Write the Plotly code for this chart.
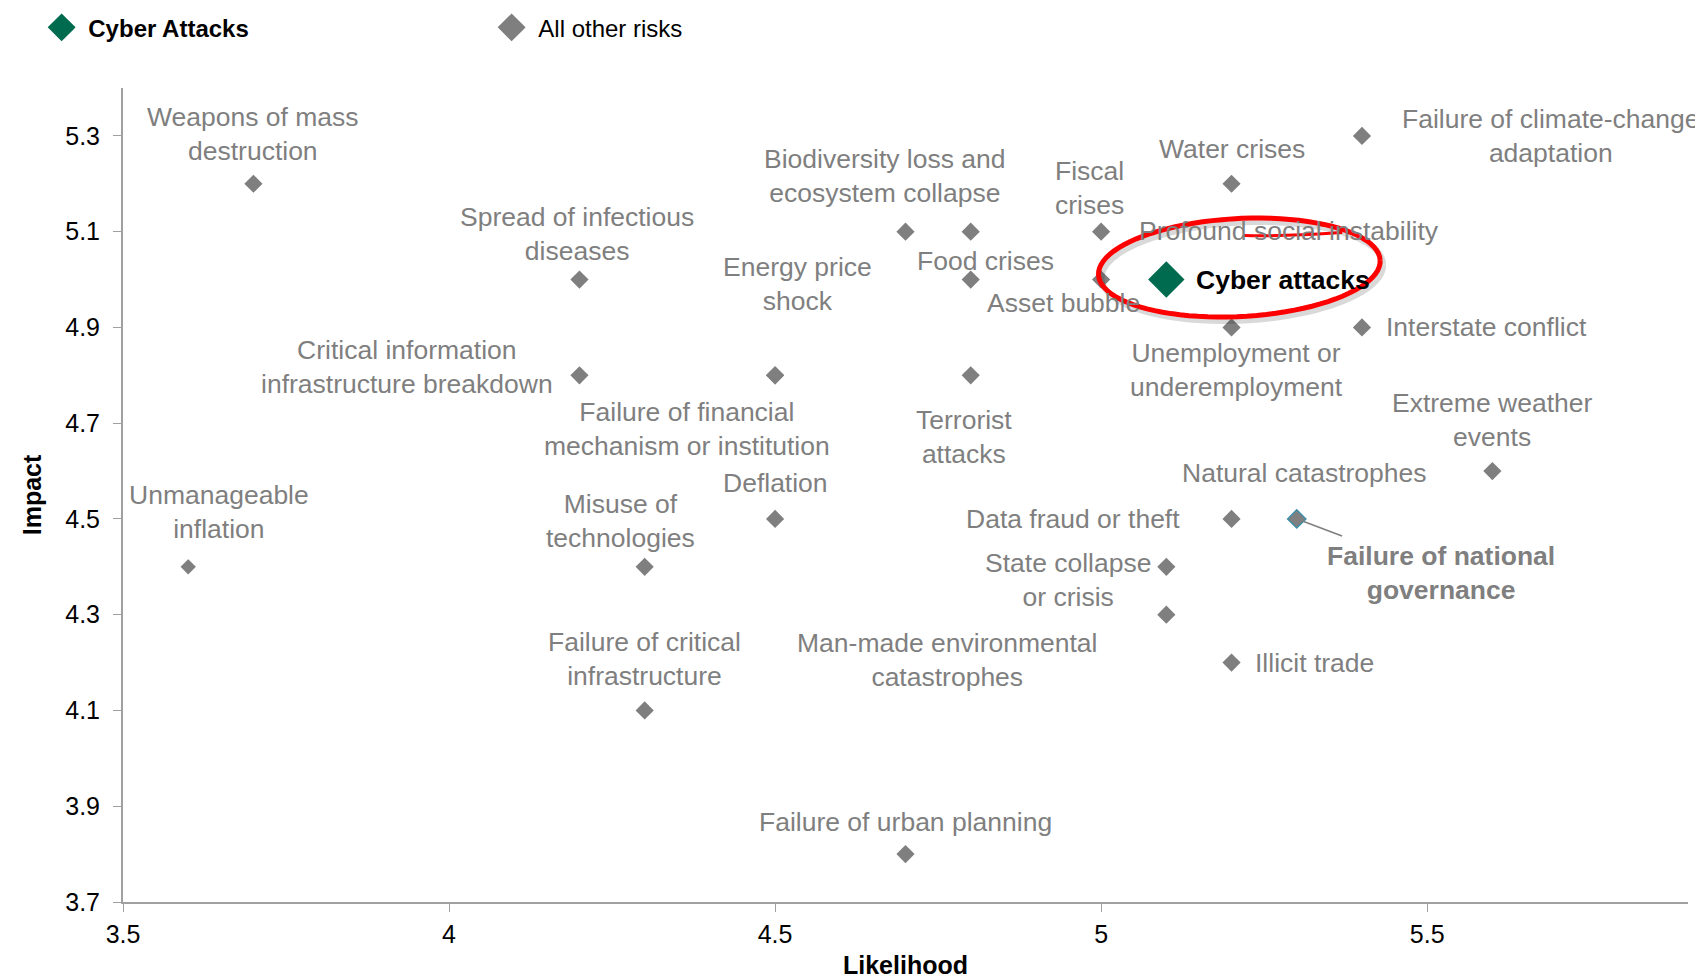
import math
import plotly.graph_objects as go

# ---------------- data ----------------
risk_names = [
    "Weapons of mass<br>destruction",
    "Unmanageable<br>inflation",
    "Spread of infectious<br>diseases",
    "Critical information<br>infrastructure breakdown",
    "Energy price<br>shock",
    "Failure of financial<br>mechanism or institution",
    "Misuse of<br>technologies",
    "Deflation",
    "Failure of critical<br>infrastructure",
    "Biodiversity loss and<br>ecosystem collapse",
    "Food crises",
    "Asset bubble",
    "Fiscal<br>crises",
    "Profound social instability",
    "Water crises",
    "Failure of climate-change<br>adaptation",
    "Interstate conflict",
    "Unemployment or<br>underemployment",
    "Terrorist<br>attacks",
    "Extreme weather<br>events",
    "Natural catastrophes",
    "Data fraud or theft",
    "Failure of national<br>governance",
    "State collapse<br>or crisis",
    "Man-made environmental<br>catastrophes",
    "Illicit trade",
    "Failure of urban planning",
]
likelihood = [3.7, 3.6, 4.2, 4.2, 4.5, 4.5, 4.3, 4.5, 4.3, 4.7, 4.8, 4.8, 5.0, 5.0,
              5.2, 5.4, 5.4, 5.2, 4.8, 5.6, 5.3, 5.2, 5.3, 5.1, 5.1, 5.2, 4.7]
impact = [5.2, 4.4, 5.0, 4.8, 4.8, 4.8, 4.4, 4.5, 4.1, 5.1, 5.1, 5.0, 5.1, 5.0,
          5.2, 5.3, 4.9, 4.9, 4.8, 4.6, 4.5, 4.5, 4.5, 4.4, 4.3, 4.2, 3.8]

cyber_name = "Cyber attacks"
cyber_likelihood = [5.1]
cyber_impact = [5.0]

legend_names = ["\u00a0<b>Cyber Attacks</b>", "\u00a0All other risks"]

x_tickvals = [3.5, 4, 4.5, 5, 5.5]
x_ticktext = ["3.5", "4", "4.5", "5", "5.5"]
y_tickvals = [3.7, 3.9, 4.1, 4.3, 4.5, 4.7, 4.9, 5.1, 5.3]
y_ticktext = ["3.7", "3.9", "4.1", "4.3", "4.5", "4.7", "4.9", "5.1", "5.3"]

# ---------------- layout / style ----------------
W, H = 1703, 977
M_L, M_R, M_T, M_B = 115, 23, 80, 83
X_RANGE = [3.5, 5.9]
Y_RANGE = [3.7, 5.4]
PX_PER_X = (W - M_L - M_R) / (X_RANGE[1] - X_RANGE[0])
PX_PER_Y = (H - M_T - M_B) / (Y_RANGE[1] - Y_RANGE[0])

FONT = "Arial, 'Liberation Sans', sans-serif"
GREY = "#7f7f7f"
GREEN = "#006b4f"
LABEL_SIZE = 26.5

# label offsets in pixels (dx, dy screen-down) and horizontal anchor
label_pos = {
    "Weapons of mass<br>destruction": (0, -50, "center"),
    "Unmanageable<br>inflation": (31, -55, "center"),
    "Spread of infectious<br>diseases": (-2, -46, "center"),
    "Critical information<br>infrastructure breakdown": (-24, -8, "right"),
    "Energy price<br>shock": (22, -91, "center"),
    "Failure of financial<br>mechanism or institution": (-88, 54, "center"),
    "Misuse of<br>technologies": (-24, -46, "center"),
    "Deflation": (0, -36, "center"),
    "Failure of critical<br>infrastructure": (0, -51, "center"),
    "Biodiversity loss and<br>ecosystem collapse": (-21, -56, "center"),
    "Food crises": (15, 29, "center"),
    "Asset bubble": (93, 23, "center"),
    "Fiscal<br>crises": (-12, -44, "center"),
    "Profound social instability": (36, -49, "left"),
    "Water crises": (0, -35, "center"),
    "Failure of climate-change<br>adaptation": (189, 0, "center"),
    "Interstate conflict": (22, 0, "left"),
    "Unemployment or<br>underemployment": (5, 43, "center"),
    "Terrorist<br>attacks": (-7, 62, "center"),
    "Extreme weather<br>events": (0, -51, "center"),
    "Natural catastrophes": (8, -46, "center"),
    "Data fraud or theft": (-50, 0, "right"),
    "State collapse<br>or crisis": (-98, 13, "center"),
    "Man-made environmental<br>catastrophes": (-219, 45, "center"),
    "Illicit trade": (21, 0, "left"),
    "Failure of urban planning": (0, -32, "center"),
}
arrow_labels = {"Failure of national<br>governance": (144, 54)}

marker_line_style = {
    "Unmanageable<br>inflation": ("#ffffff", 2),
    "Failure of national<br>governance": ("#3f8fa8", 1.5),
}

line_colors = [marker_line_style.get(n, (GREY, 0))[0] for n in risk_names]
line_widths = [marker_line_style.get(n, (GREY, 0))[1] for n in risk_names]

fig = go.Figure()

# data traces
fig.add_trace(go.Scatter(
    x=likelihood, y=impact, mode="markers", showlegend=False,
    marker=dict(symbol="diamond", size=14, color=GREY,
                line=dict(color=line_colors, width=line_widths)),
    hovertext=[n.replace("<br>", " ") for n in risk_names], hoverinfo="text",
))
fig.add_trace(go.Scatter(
    x=cyber_likelihood, y=cyber_impact, mode="markers", showlegend=False,
    marker=dict(symbol="diamond", size=28, color=GREEN),
    hovertext=[cyber_name], hoverinfo="text",
))

# legend entries
for name, col in zip(legend_names, [GREEN, GREY]):
    fig.add_trace(go.Scatter(
        x=[None], y=[None], mode="markers", name=name,
        marker=dict(symbol="diamond", size=16, color=col, line=dict(color=col, width=5)),
    ))

annotations = []
for n, xv, yv in zip(risk_names, likelihood, impact):
    if n in label_pos:
        dx, dy, anc = label_pos[n]
        annotations.append(dict(
            x=xv, y=yv, xref="x", yref="y", text=n, showarrow=False,
            xshift=dx, yshift=-dy, xanchor=anc, yanchor="middle", align="center",
            font=dict(family=FONT, size=LABEL_SIZE, color=GREY),
        ))
    elif n in arrow_labels:
        ax, ay = arrow_labels[n]
        annotations.append(dict(
            x=xv, y=yv, xref="x", yref="y", text="<b>" + n + "</b>", showarrow=True,
            ax=ax, ay=ay, arrowhead=0, arrowwidth=1.5, arrowcolor=GREY,
            standoff=6, startstandoff=10,
            align="center", font=dict(family=FONT, size=LABEL_SIZE, color=GREY),
        ))

annotations.append(dict(
    x=cyber_likelihood[0], y=cyber_impact[0], xref="x", yref="y",
    text="<b>" + cyber_name + "</b>", showarrow=False, xshift=28,
    xanchor="left", yanchor="middle",
    font=dict(family=FONT, size=LABEL_SIZE, color="#000000"),
))

# hand-drawn style red ellipse around the cyber point (pixel offsets -> data units)
cx_px, cy_px = 73, -12
a_px, b_px = 141, 49
rot = math.radians(-3)


def to_data(px, py):
    return (cyber_likelihood[0] + px / PX_PER_X, cyber_impact[0] - py / PX_PER_Y)


def ellipse_path(ox=0.0, oy=0.0):
    pts = []
    n = 90
    for i in range(n + 1):
        t = 2 * math.pi * i / n
        ex = a_px * math.cos(t)
        ey = b_px * math.sin(t)
        rx = ex * math.cos(rot) - ey * math.sin(rot)
        ry = ex * math.sin(rot) + ey * math.cos(rot)
        pts.append(to_data(cx_px + rx + ox, cy_px + ry + oy))
    return "M " + " L ".join(f"{p[0]:.5f},{p[1]:.5f}" for p in pts)


def tail_path(ox=0.0, oy=0.0):
    p0 = to_data(176 + ox, -47 + oy)
    p1 = to_data(125 + ox, -43 + oy)
    p2 = to_data(78 + ox, -44 + oy)
    return f"M {p0[0]:.5f},{p0[1]:.5f} Q {p1[0]:.5f},{p1[1]:.5f} {p2[0]:.5f},{p2[1]:.5f}"


shapes = [
    dict(type="path", path=ellipse_path(3, 4), xref="x", yref="y",
         line=dict(color="rgba(0,0,0,0.15)", width=6)),
    dict(type="path", path=ellipse_path(), xref="x", yref="y",
         line=dict(color="#ff0000", width=5)),
    dict(type="path", path=tail_path(), xref="x", yref="y",
         line=dict(color="#ff0000", width=3)),
]

fig.update_layout(
    width=W, height=H,
    margin=dict(l=M_L, r=M_R, t=M_T, b=M_B, autoexpand=False),
    paper_bgcolor="white", plot_bgcolor="white",
    font=dict(family=FONT, size=LABEL_SIZE, color="#000000"),
    showlegend=True,
    legend=dict(orientation="h", x=-0.052, xanchor="left", y=1.074, yanchor="middle",
                font=dict(family=FONT, size=24, color="#000000"),
                entrywidth=405, entrywidthmode="pixels", valign="middle",
                bgcolor="rgba(0,0,0,0)"),
    xaxis=dict(range=X_RANGE, tickvals=x_tickvals, ticktext=x_ticktext,
               showgrid=False, zeroline=False, showline=True, linecolor="#a0a0a0",
               linewidth=2, ticks="outside", ticklen=8, tickcolor="#a0a0a0", tickwidth=1,
               tickfont=dict(family=FONT, size=25, color="#000000"),
               ticklabelstandoff=1,
               title=dict(text="<b>Likelihood</b>", standoff=9,
                          font=dict(family=FONT, size=25, color="#000000")),
               automargin=False),
    yaxis=dict(range=Y_RANGE, tickvals=y_tickvals, ticktext=y_ticktext,
               showgrid=False, zeroline=False, showline=True, linecolor="#a0a0a0",
               linewidth=2, ticks="outside", ticklen=8, tickcolor="#a0a0a0", tickwidth=1,
               tickfont=dict(family=FONT, size=25, color="#000000"),
               ticklabelstandoff=8,
               title=dict(text="<b>Impact</b>", standoff=16,
                          font=dict(family=FONT, size=25, color="#000000")),
               automargin=False),
    annotations=annotations,
    shapes=shapes,
    hovermode="closest",
)

fig.write_html("out.html")
